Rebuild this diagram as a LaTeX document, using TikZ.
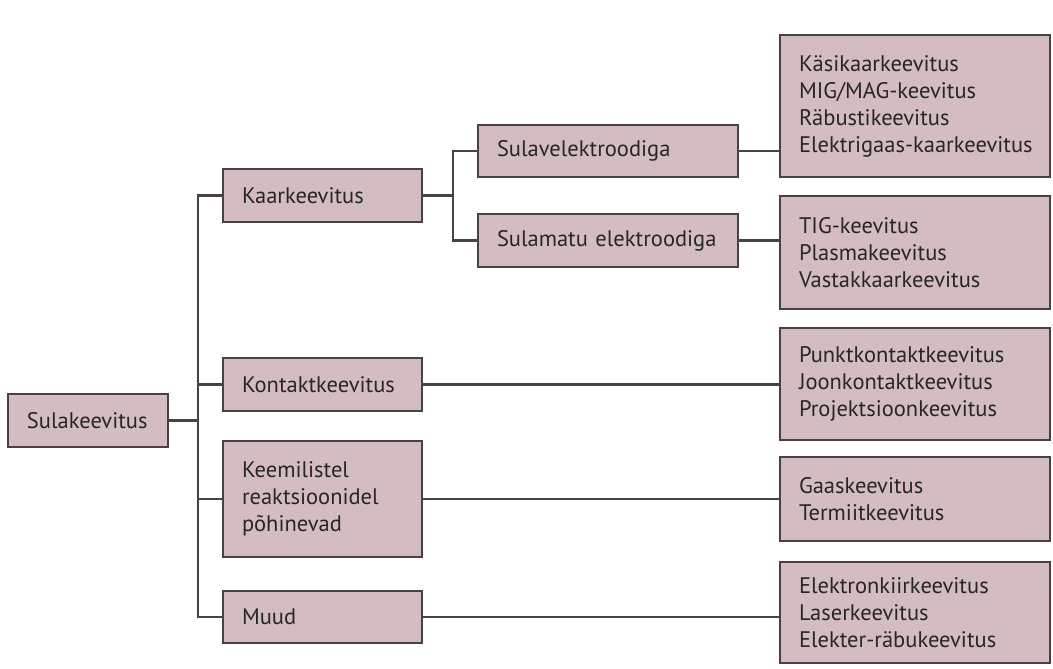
\documentclass[tikz,border=0pt]{standalone}
\usepackage{fontspec}
\setmainfont{PT Sans}
\definecolor{boxfill}{HTML}{D4BDC1}
\definecolor{boxline}{HTML}{4A4142}
\begin{document}
\begin{tikzpicture}[x=1pt,y=-1pt,
  box/.style={draw=boxline, fill=boxfill, line width=2.6pt, rectangle,
    inner xsep=19pt, inner ysep=0pt, align=left, anchor=center,
    font=\fontsize{22.5}{27}\selectfont, text=black!85},
  conn/.style={draw=boxline, line width=2.6pt}]
\useasboundingbox (0,0) rectangle (1053,669);
\node[box, minimum width=160pt, minimum height=53pt, text width=122pt] (S) at (88,420.5) {Sulakeevitus};
\node[box, minimum width=199pt, minimum height=53pt, text width=161pt] (Kaar) at (322.5,195.5) {Kaarkeevitus};
\node[box, minimum width=199pt, minimum height=53pt, text width=161pt] (Kont) at (322.5,384.5) {Kontaktkeevitus};
\node[box, minimum width=199pt, minimum height=116pt, text width=161pt] (Keem) at (322.5,499) {Keemilistel\\reaktsioonidel\\põhinevad};
\node[box, minimum width=199pt, minimum height=52pt, text width=161pt] (Muud) at (322.5,617) {Muud};
\node[box, minimum width=260pt, minimum height=52pt, text width=222pt] (Sulav) at (608,151) {Sulavelektroodiga};
\node[box, minimum width=260pt, minimum height=53pt, text width=222pt] (Sulam) at (608,240.5) {Sulamatu elektroodiga};
\node[box, minimum width=270pt, minimum height=142pt, text width=232pt] (R1) at (915,106) {Käsikaarkeevitus\\MIG/MAG-keevitus\\Räbustikeevitus\\\mbox{Elektrigaas-kaarkeevitus}};
\node[box, minimum width=270pt, minimum height=113pt, text width=232pt] (R2) at (915,252.5) {TIG-keevitus\\Plasmakeevitus\\Vastakkaarkeevitus};
\node[box, minimum width=270pt, minimum height=112pt, text width=232pt] (R3) at (915,384) {Punktkontaktkeevitus\\Joonkontaktkeevitus\\Projektsioonkeevitus};
\node[box, minimum width=270pt, minimum height=84pt, text width=232pt] (R4) at (915,499) {Gaaskeevitus\\Termiitkeevitus};
\node[box, minimum width=270pt, minimum height=101pt, text width=232pt] (R5) at (915,612.5) {Elektronkiirkeevitus\\Laserkeevitus\\Elekter-räbukeevitus};
\coordinate (tr) at (198,420.5);
\coordinate (st) at (453,195.5);
\draw[conn] (S.east) -- (tr);
\draw[conn] (Kaar.west) -| (tr) |- (Muud.west);
\draw[conn] (tr) |- (Kont.west);
\draw[conn] (tr) |- (Keem.west);
\draw[conn] (Kaar.east) -- (st);
\draw[conn] (Sulav.west) -| (st) |- (Sulam.west);
\draw[conn] (Sulav.east) -- (Sulav.east -| R1.west);
\draw[conn] (Sulam.east) -- (Sulam.east -| R2.west);
\draw[conn] (Kont.east) -- (Kont.east -| R3.west);
\draw[conn] (Keem.east) -- (Keem.east -| R4.west);
\draw[conn] (Muud.east) -- (Muud.east -| R5.west);
\end{tikzpicture}
\end{document}
